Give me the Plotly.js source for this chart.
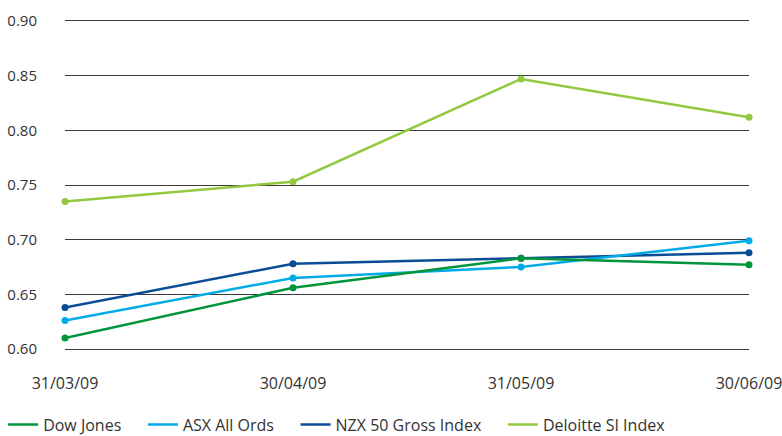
<!DOCTYPE html>
<html>
<head>
<meta charset="utf-8">
<script src="https://cdn.plot.ly/plotly-3.0.1.min.js"></script>
<style>html,body{margin:0;padding:0;background:#fff}#chart{width:782px;height:436px}</style>
</head>
<body>
<div id="chart"></div>
<script>
const dates = ["31/03/09", "30/04/09", "31/05/09", "30/06/09"];
const dowJones = [0.610, 0.656, 0.683, 0.677];
const asxAllOrds = [0.626, 0.665, 0.675, 0.699];
const nzx50 = [0.638, 0.678, 0.683, 0.688];
const deloitteSI = [0.735, 0.753, 0.847, 0.812];
const yTicks = [0.60, 0.65, 0.70, 0.75, 0.80, 0.85, 0.90];

const seriesNames = ["Dow Jones", "ASX All Ords", "NZX 50 Gross Index", "Deloitte SI Index"];
const seriesValues = [dowJones, asxAllOrds, nzx50, deloitteSI];
const colors = ["#00953b", "#00abe8", "#0a4d96", "#93c83f"];

const drawOrder = [3, 2, 1, 0];
const traces = [];
drawOrder.forEach(i => {
  traces.push({
    x: dates, y: seriesValues[i], type: 'scatter', mode: 'lines+markers',
    name: seriesNames[i], showlegend: false, cliponaxis: false,
    line: {color: colors[i], width: 2.5}, marker: {color: colors[i], size: 7},
    hoverinfo: 'x+y+name'
  });
});
// legend-only entries (lines without markers), extra trailing non-breaking spaces widen item spacing
seriesNames.forEach((n, i) => {
  traces.push({
    x: [null], y: [null], type: 'scatter', mode: 'lines', name: n + '\u00a0\u00a0\u00a0\u00a0',
    line: {color: colors[i], width: 2.5}, showlegend: true
  });
});

const layout = {
  width: 782, height: 436,
  margin: {l: 65, r: 33, t: 21, b: 87},
  paper_bgcolor: '#fff', plot_bgcolor: '#fff',
  font: {family: 'Open Sans, sans-serif', size: 15, color: '#333'},
  xaxis: {
    type: 'category', range: [0, 3], showgrid: false, zeroline: false,
    showline: true, mirror: true, linecolor: '#3a3a3a', linewidth: 1,
    ticks: '', ticklabelstandoff: 20,
    tickfont: {size: 16, color: '#333'}
  },
  yaxis: {
    range: [0.60, 0.90], tickvals: yTicks, tickformat: '.2f',
    showgrid: true, gridcolor: '#3a3a3a', gridwidth: 1,
    zeroline: false, showline: false, ticks: '', ticklabelstandoff: 27,
    tickfont: {size: 15, color: '#333'}
  },
  legend: {
    orientation: 'h', xref: 'container', yref: 'container',
    x: 0.004, xanchor: 'left', y: 0.026, yanchor: 'middle',
    font: {size: 16, color: '#333'}, traceorder: 'normal',
    bgcolor: 'rgba(0,0,0,0)'
  },
  showlegend: true
};

Plotly.newPlot('chart', traces, layout, {displayModeBar: false, staticPlot: true});
</script>
</body>
</html>
